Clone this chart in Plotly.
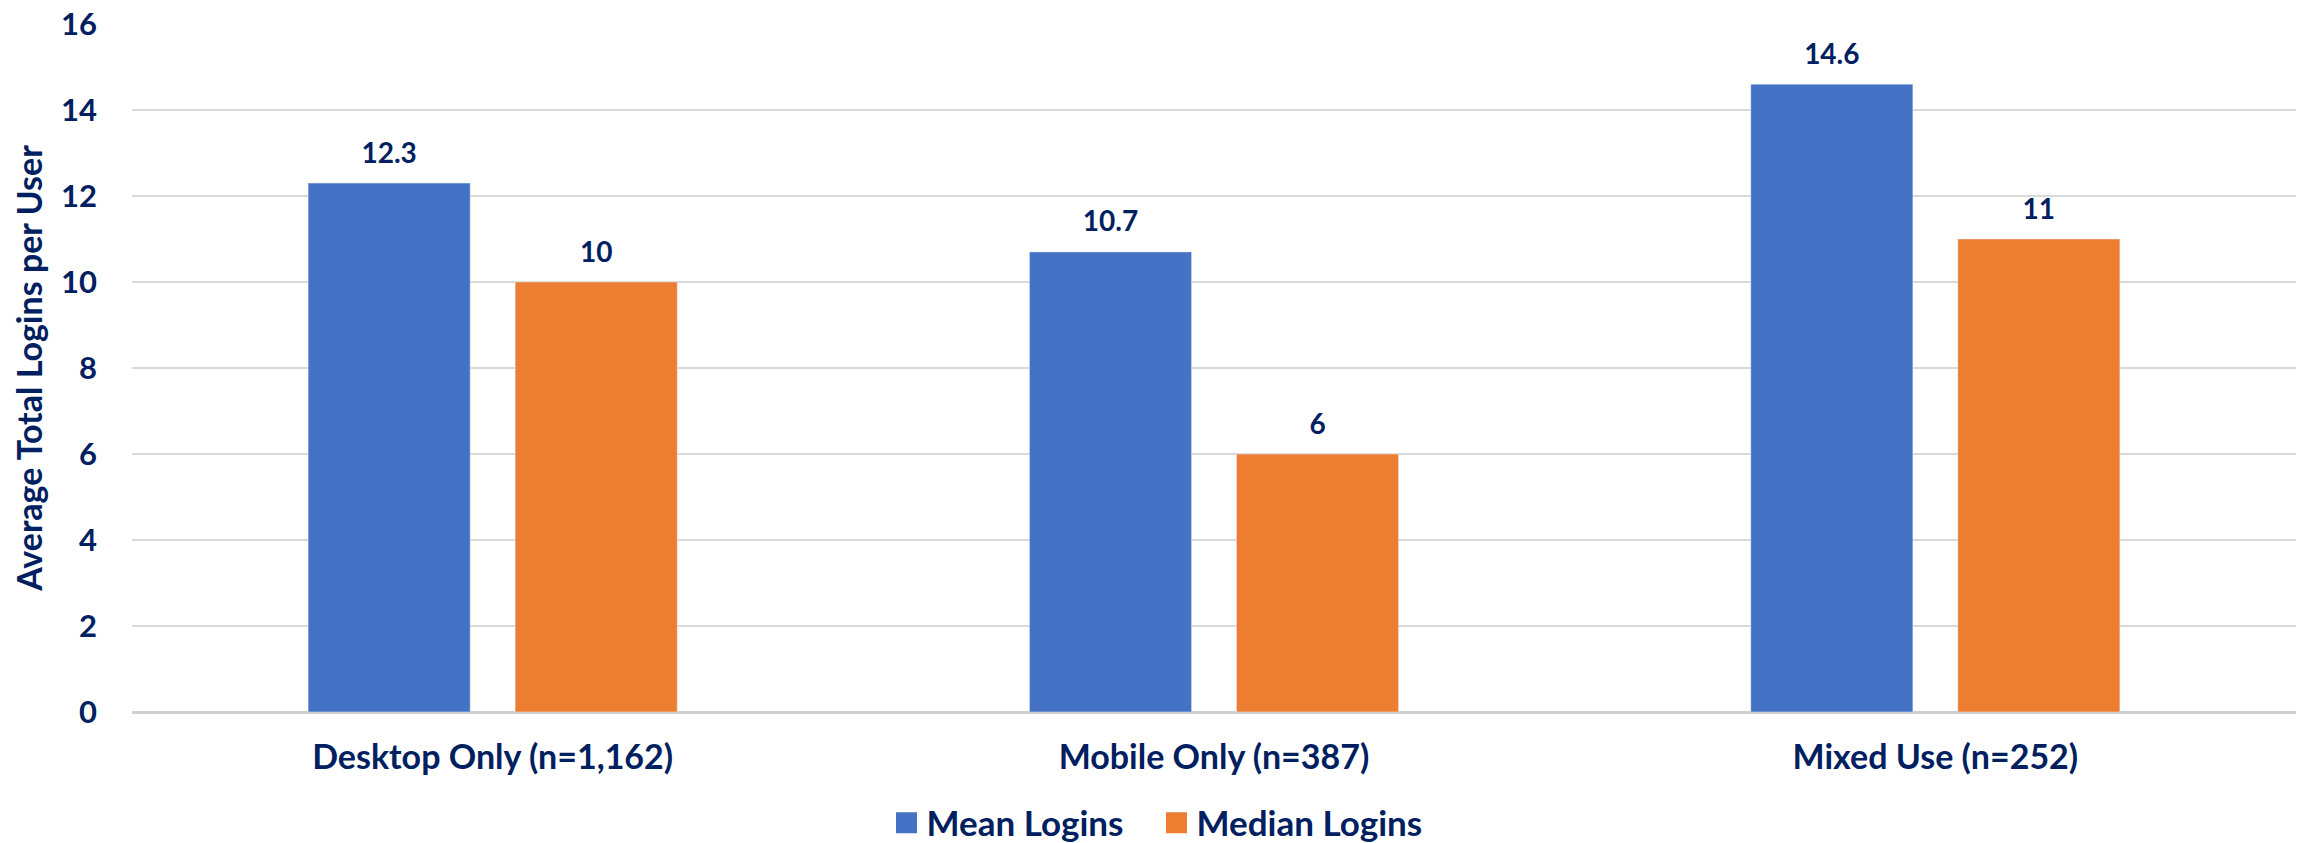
import plotly.graph_objects as go

categories = ["Desktop Only (n=1,162)", "Mobile Only (n=387)", "Mixed Use (n=252)"]
mean_logins = [12.3, 10.7, 14.6]
median_logins = [10, 6, 11]
mean_labels = ["12.3", "10.7", "14.6"]
median_labels = ["10", "6", "11"]
y_ticks = [0, 2, 4, 6, 8, 10, 12, 14, 16]

BLUE = "#4472C4"
ORANGE = "#ED7D31"
NAVY = "#002060"
FONT = "Lato"
BARGAP = 0.426
GROUPGAP = 0.217
BODY = 8  # default page margin of the html body

fig = go.Figure()
fig.add_trace(go.Bar(x=categories, y=mean_logins, name="Mean Logins",
                     marker_color=BLUE, showlegend=False))
fig.add_trace(go.Bar(x=categories, y=median_logins, name="Median Logins",
                     marker_color=ORANGE, showlegend=False))

# data labels placed over the bar centres on a hidden numeric axis
off = (1 - BARGAP) / 4
idx = list(range(len(categories)))
for vals, labels, sign in [(mean_logins, mean_labels, -1), (median_logins, median_labels, 1)]:
    fig.add_trace(go.Scatter(
        x=[i + sign * off for i in idx], y=vals, text=labels,
        mode="markers+text", textposition="top center",
        marker=dict(size=20, opacity=0), xaxis="x2",
        textfont=dict(family=FONT, size=28, color=NAVY, weight="bold"),
        showlegend=False, hoverinfo="skip", cliponaxis=False))

# legend entries
for name, col in [("Mean Logins", BLUE), ("Median Logins", ORANGE)]:
    fig.add_trace(go.Scatter(x=[None], y=[None], mode="markers", name=name, xaxis="x2",
                             marker=dict(symbol="square", size=16, color=col,
                                         line=dict(color=col, width=5))))

fig.update_layout(
    width=2305 - BODY, height=843 - BODY,
    paper_bgcolor="white", plot_bgcolor="white",
    margin=dict(l=132 - BODY, r=9, t=24 - BODY, b=131, autoexpand=False),
    barmode="group", bargap=BARGAP, bargroupgap=GROUPGAP,
    font=dict(family=FONT, color=NAVY),
    xaxis=dict(type="category", range=[-0.5, 2.5], showgrid=False, ticks="",
               showline=False, ticklabelstandoff=22, automargin=False,
               tickfont=dict(family=FONT, size=34, color=NAVY, weight="bold")),
    xaxis2=dict(overlaying="x", range=[-0.5, 2.5], visible=False),
    yaxis=dict(range=[0, 16], tickvals=y_ticks, showgrid=True, gridcolor="#D9D9D9",
               gridwidth=2, zeroline=True, zerolinecolor="#D0D0D0", zerolinewidth=3,
               ticks="", showline=False, ticklabelstandoff=34, automargin=False,
               ticklabeloverflow="allow",
               tickfont=dict(family=FONT, size=31, color=NAVY, weight="bold"),
               title=dict(text="Average Total Logins per User", standoff=16,
                          font=dict(family=FONT, size=34, color=NAVY, weight="bold"))),
    legend=dict(orientation="h", xref="container", yref="container", x=0.5, y=0.024,
                xanchor="center", yanchor="middle", itemclick=False, entrywidth=225,
                font=dict(family=FONT, size=35, color=NAVY, weight="bold"),
                bgcolor="rgba(0,0,0,0)"),
)

fig.write_html("out.html")
